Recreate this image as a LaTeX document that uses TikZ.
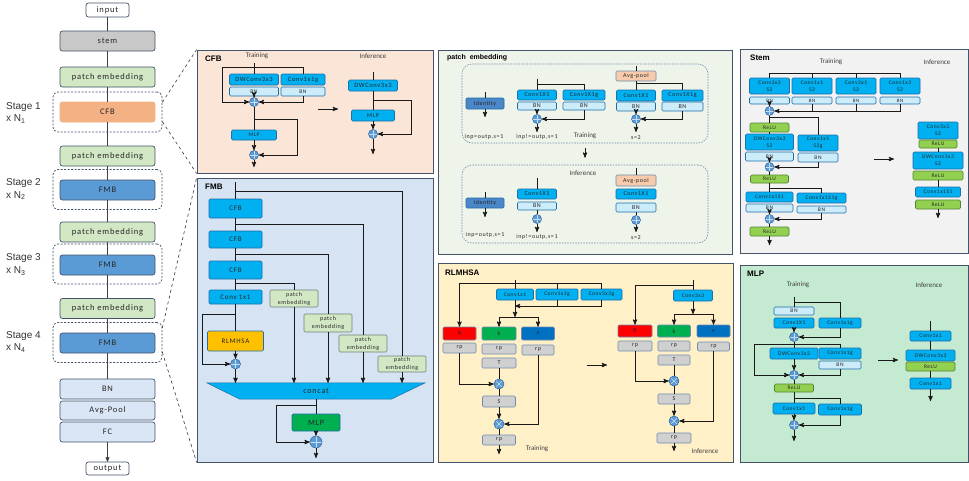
\documentclass[tikz,border=0pt]{standalone}
\usepackage{fontspec}
\setmainfont{Carlito}
\newfontfamily\boxfont[LetterSpace=10]{Carlito}
\newfontfamily\headfont{Liberation Sans}
\usetikzlibrary{arrows}
\usetikzlibrary{positioning}

\definecolor{convfill}{RGB}{0,176,240}
\definecolor{convline}{RGB}{31,110,170}
\definecolor{bnfill}{RGB}{204,236,250}
\definecolor{relufill}{RGB}{146,208,80}
\definecolor{reluline}{RGB}{84,130,53}
\definecolor{rpfill}{RGB}{208,208,208}
\definecolor{rpline}{RGB}{110,140,175}
\definecolor{addfill}{RGB}{91,155,213}
\definecolor{addline}{RGB}{46,100,160}
\definecolor{qred}{RGB}{255,0,0}
\definecolor{kgreen}{RGB}{0,176,80}
\definecolor{vblue}{RGB}{0,112,192}
\definecolor{gold}{RGB}{255,192,0}
\definecolor{idblue}{RGB}{74,134,200}
\definecolor{peach}{RGB}{248,203,173}
\definecolor{pegreen}{RGB}{210,231,196}
\definecolor{peline}{RGB}{110,130,120}
\definecolor{stemgray}{RGB}{200,200,200}
\definecolor{cfborange}{RGB}{244,177,131}
\definecolor{fmbblue}{RGB}{91,155,213}
\definecolor{headblue}{RGB}{218,230,245}
\definecolor{slate}{RGB}{68,84,106}
\definecolor{wirecol}{RGB}{25,25,25}
\definecolor{cfbbg}{RGB}{251,229,214}
\definecolor{fmbbg}{RGB}{214,227,242}
\definecolor{pebg}{RGB}{239,244,234}
\definecolor{rlmbg}{RGB}{255,240,200}
\definecolor{stembg}{RGB}{242,242,242}
\definecolor{mlpbg}{RGB}{197,234,210}

\newcommand\bxf[2]{\boxfont\fontsize{#1}{#2}\selectfont}

\tikzset{
  box/.style={rectangle,rounded corners=1.2pt,inner sep=0pt,line width=0.6pt,
              align=center,text=black!85,font=\bxf{6}{6}},
  sz/.style 2 args={minimum width=#1,minimum height=#2},
  fs/.style={font=\bxf{#1}{#1}},
  conv/.style={box,fill=convfill,draw=convline},
  bn/.style={box,fill=bnfill,draw=convline},
  relu/.style={box,fill=relufill,draw=reluline},
  rpbox/.style={box,fill=rpfill,draw=rpline},
  pesmall/.style={box,fill=pegreen,draw=peline,sz={48}{17},font=\bxf{6}{8}},
  colbox/.style={box,rounded corners=2.5pt,line width=0.7pt,draw=slate,sz={95}{20},fs=8.5},
  stagebox/.style={draw=slate,dash pattern=on 2pt off 1.5pt,rounded corners=5pt,
                   line width=0.7pt,sz={109}{40}},
  grp/.style={draw=rpline,dash pattern=on 1.5pt off 1.2pt,rounded corners=10pt,
              line width=0.6pt,sz={246}{79}},
  panel/.style={draw=slate,line width=0.8pt,inner sep=0pt},
  dot/.style={circle,fill=addfill,draw=addline,line width=0.5pt,minimum size=9pt,inner sep=0pt},
  add/.style={dot,path picture={\draw[addfill!35!white,line width=0.6pt]
      (path picture bounding box.north) -- (path picture bounding box.south)
      (path picture bounding box.west) -- (path picture bounding box.east);}},
  mul/.style={dot,minimum size=10pt,path picture={\draw[addfill!35!white,line width=0.6pt]
      (path picture bounding box.north west) -- (path picture bounding box.south east)
      (path picture bounding box.south west) -- (path picture bounding box.north east);}},
  wire/.style={draw=wirecol,line width=0.9pt},
  arr/.style={wire,->},
  colwire/.style={draw=black!75,line width=0.7pt},
  zoomline/.style={draw=black!80,dashed,line width=0.6pt},
  lbl/.style={font=\fontsize{7}{7}\selectfont,text=black!75,inner sep=0pt},
  note/.style={font=\bxf{6}{6},text=black!85,inner sep=0pt},
  ttl/.style={font=\headfont\bfseries\fontsize{8}{8}\selectfont,anchor=west,inner sep=0pt},
  stagelbl/.style={font=\headfont\fontsize{10}{11}\selectfont,anchor=west,inner sep=0pt,text=black!80}
}

\begin{document}
\begin{tikzpicture}[x=1pt,y=-1pt,>=stealth']
\useasboundingbox (0,0) rectangle (969,480);
\fill[white] (0,0) rectangle (969,480);

% ---- left column
\node[stagebox] (stg1) at (107.5,112) {};
\node[stagebox] (stg2) at (107.5,189.5) {};
\node[stagebox] (stg3) at (107.5,264) {};
\node[stagebox] (stg4) at (107.5,342.5) {};
\node[colbox,fill=white,sz={43}{14}] (input) at (107.5,10) {input};
\node[colbox,fill=stemgray] (stem) at (107.5,41) {stem};
\node[colbox,fill=pegreen] (pe1) at (107.5,77) {patch embedding};
\node[colbox,fill=cfborange,draw=cfborange] (cfb) at (107.5,112) {CFB};
\node[colbox,fill=pegreen] (pe2) at (107.5,156) {patch embedding};
\node[colbox,fill=fmbblue] (fmb2) at (107.5,190) {FMB};
\node[colbox,fill=pegreen] (pe3) at (107.5,232) {patch embedding};
\node[colbox,fill=fmbblue] (fmb3) at (107.5,265) {FMB};
\node[colbox,fill=pegreen] (pe4) at (107.5,308.5) {patch embedding};
\node[colbox,fill=fmbblue] (fmb4) at (107.5,343) {FMB};
\node[colbox,fill=headblue] (bn) at (107.5,389) {BN};
\node[colbox,fill=headblue,sz={95}{19}] (avg) at (107.5,410.5) {Avg-Pool};
\node[colbox,fill=headblue] (fc) at (107.5,432) {FC};
\node[colbox,fill=white,sz={43}{13}] (output) at (107.5,468.5) {output};

\draw[colwire] (input) -- (stem) -- (pe1) -- (cfb) -- (pe2) -- (fmb2) -- (pe3)
  -- (fmb3) -- (pe4) -- (fmb4) -- (bn);
\draw[colwire,->] (fc) -- (output);

\node[stagelbl] at (6,107) {Stage 1};
\node[stagelbl] at (6,119) {x N\textsubscript{1}};
\node[stagelbl] at (6,183) {Stage 2};
\node[stagelbl] at (6,195.5) {x N\textsubscript{2}};
\node[stagelbl] at (6,258) {Stage 3};
\node[stagelbl] at (6,271) {x N\textsubscript{3}};
\node[stagelbl] at (6,336) {Stage 4};
\node[stagelbl] at (6,348) {x N\textsubscript{4}};

% ---- CFB
\node[panel,fill=cfbbg,sz={236}{123}] (cfbp) at (315,111.5) {};
\node[ttl] at (205,59) {CFB};
\node[lbl] at (257,56) {Training};
\node[lbl] at (373,56) {Inference};
\coordinate (cfb-in) at (254,63);
\node[conv,sz={49}{11},fs=6.5] (cfb-dw) at (254,79.5) {DWConv3x3};
\node[conv,sz={44}{11},fs=6.5] (cfb-g) at (303,79.5) {Conv1x1g};
\node[bn,sz={49}{9},fs=5.5] (cfb-bn1) at (254,91.5) {BN};
\node[bn,sz={44}{9},fs=5.5] (cfb-bn2) at (303,91.5) {BN};
\node[add] (cfb-a1) at (254,102) {};
\node[conv,sz={45}{10},fs=5.5] (cfb-mlp) at (254,135) {MLP};
\node[add] (cfb-a2) at (254,155) {};
\coordinate (cfb-out) at (254,167);
\draw[wire] (cfb-in) -- (cfb-dw);
\draw[wire] (cfb-in) ++(0,4) -| (cfb-g);
\draw[arr] (cfb-in) ++(0,4) -- ++(-32,0) |- (cfb-a1);
\draw[arr] (cfb-bn1) -- (cfb-a1);
\draw[arr] (cfb-bn2) |- (cfb-a1);
\draw[wire] (cfb-a1) -- (cfb-mlp);
\draw[arr] (cfb-mlp) -- (cfb-a2);
\draw[arr] (cfb-a1.south) ++(0,12.5) -- ++(43,0) |- (cfb-a2);
\draw[arr] (cfb-a2) -- (cfb-out);

\coordinate (cfi-in) at (373,72);
\node[conv,sz={49}{11},fs=6.5] (cfi-dw) at (373,85.5) {DWConv3x3};
\node[conv,sz={43}{11},fs=6] (cfi-mlp) at (373,115.5) {MLP};
\node[add] (cfi-a) at (373,134) {};
\coordinate (cfi-out) at (373,154);
\draw[wire] (cfi-in) -- (cfi-dw);
\draw[wire] (cfi-dw) -- (cfi-mlp);
\draw[arr] (cfi-mlp) -- (cfi-a);
\draw[arr] (cfi-dw.south) ++(0,9) -- ++(38,0) |- (cfi-a);
\draw[arr] (cfi-a) -- (cfi-out);
\coordinate (cfb-l) at (318,109);
\coordinate (cfb-r) at (338,109);
\draw[arr] (cfb-l) -- (cfb-r);

% ---- FMB
\node[panel,fill=fmbbg,sz={236}{284}] (fmbp) at (315,320) {};
\node[ttl] at (205,187) {FMB};
\coordinate (fmb-in) at (235.5,182);
\node[conv,sz={53}{19},fs=7] (fmb-c1) at (235.5,208.5) {CFB};
\node[conv,sz={53}{17},fs=7] (fmb-c2) at (235.5,239.5) {CFB};
\node[conv,sz={53}{18},fs=7] (fmb-c3) at (235.5,270) {CFB};
\node[conv,sz={53}{14},fs=7] (fmb-cv) at (235.5,297) {Conv 1x1};
\node[box,fill=gold,draw=convline,sz={56}{20},fs=7] (fmb-rl) at (235.5,341) {RLMHSA};
\node[add,minimum size=10pt] (fmb-a1) at (235.5,364) {};
\node[pesmall] (fmb-pa) at (294,298.5) {patch\\embedding};
\node[pesmall,sz={48}{18}] (fmb-pb) at (328,323) {patch\\embedding};
\node[pesmall] (fmb-pc) at (363,343.5) {patch\\embedding};
\node[pesmall,sz={48}{16}] (fmb-pd) at (402,364) {patch\\embedding};
\node[sz={218}{16},inner sep=0pt] (concat) at (316,391) {};
\filldraw[fill=convfill,draw=convline,line width=0.5pt] (concat.north west) -- (concat.north east)
  -- ([xshift=-34pt]concat.south east) -- ([xshift=33pt]concat.south west) -- cycle;
\node[fs=8,text=black!85] (concat-t) at (concat) {concat};
\node[box,fill=kgreen,draw=convline,sz={48}{17},fs=8] (fmb-mlp) at (316,422.5) {MLP};
\node[add,minimum size=12pt] (fmb-a2) at (316,442) {};
\coordinate (fmb-out) at (316,458);

\draw[wire] (fmb-in) -- (fmb-c1);
\draw[wire] (fmb-c1) -- (fmb-c2);
\draw[wire] (fmb-c2) -- (fmb-c3);
\draw[wire] (fmb-c3) -- (fmb-cv);
\draw[wire] (fmb-cv) -- (fmb-rl);
\draw[arr] (fmb-rl) -- (fmb-a1);
\draw[arr] (fmb-a1) -- (fmb-a1 |- concat.north);
\draw[arr] (fmb-cv.south) ++(0,10) -- ++(-33.5,0) |- (fmb-a1);
\draw[wire] (fmb-in) ++(0,9) -| (fmb-pd);
\draw[wire] (fmb-c1.south) ++(0,6) -| (fmb-pc);
\draw[wire] (fmb-c2.south) ++(0,6) -| (fmb-pb);
\draw[wire] (fmb-c3.south) ++(0,4) -| (fmb-pa);
\draw[arr] (fmb-pa) -- (fmb-pa |- concat.north);
\draw[arr] (fmb-pb) -- (fmb-pb |- concat.north);
\draw[arr] (fmb-pc) -- (fmb-pc |- concat.north);
\draw[arr] (fmb-pd) -- (fmb-pd |- concat.north);
\draw[wire] (concat.south) -- (fmb-mlp);
\draw[arr] (fmb-mlp) -- (fmb-a2);
\draw[arr] (concat.south) ++(0,6) -- ++(-40,0) |- (fmb-a2);
\draw[arr] (fmb-a2) -- (fmb-out);

% ---- patch embedding
\node[panel,fill=pebg,sz={294}{204}] (pep) at (585,152) {};
\node[ttl,font=\headfont\bfseries\fontsize{7}{7}\selectfont] at (447,58) {patch\ \ embedding};
\node[grp] (pe-up) at (585,103.5) {};
\node[grp,sz={246}{78}] (pe-lo) at (585,204) {};
\draw[arr,shorten <=5pt,shorten >=7pt] (pe-up) -- (pe-lo);

\coordinate (idu-in) at (485,92);
\node[box,fill=idblue,draw=convline,sz={38}{11}] (idu) at (485,103.5) {Identity};
\coordinate (idu-out) at (485,117);
\draw[wire] (idu-in) -- (idu);
\draw[arr] (idu) -- (idu-out);
\node[note] at (484,137) {inp=outp,s=1};

\coordinate (pu-in) at (537,79);
\node[conv,sz={39}{10}] (pu-c) at (537,95) {Conv1X1};
\node[bn,sz={39}{8}] (pu-bn1) at (537,106) {BN};
\node[conv,sz={42}{10}] (pu-g) at (584,95) {Conv1X1g};
\node[bn,sz={42}{8}] (pu-bn2) at (584,106) {BN};
\node[add] (pu-a) at (537,119) {};
\coordinate (pu-out) at (537,132);
\draw[wire] (pu-in) -- (pu-c);
\draw[wire] (pu-in) ++(0,5) -| (pu-g);
\draw[arr] (pu-bn1) -- (pu-a);
\draw[arr] (pu-bn2) |- (pu-a);
\draw[arr] (pu-a) -- (pu-out);
\node[note] at (537,137) {inp!=outp,s=1};
\node[lbl] at (585,136) {Training};

\coordinate (pa-in) at (636,66);
\node[box,fill=peach,draw=rpline,sz={40}{10}] (pa-avg) at (636,76) {Avg-pool};
\node[conv,sz={39}{11}] (pa-c) at (636,95.5) {Conv1X1};
\node[bn,sz={39}{9}] (pa-bn1) at (636,106.5) {BN};
\node[conv,sz={41}{11}] (pa-g) at (682.5,95.5) {Conv1X1g};
\node[bn,sz={41}{9}] (pa-bn2) at (682.5,106.5) {BN};
\node[add] (pa-a) at (636,119) {};
\coordinate (pa-out) at (636,132);
\draw[wire] (pa-in) -- (pa-avg);
\draw[wire] (pa-avg) -- (pa-c);
\draw[wire] (pa-avg.south) ++(0,2) -| (pa-g);
\draw[arr] (pa-bn1) -- (pa-a);
\draw[arr] (pa-bn2) |- (pa-a);
\draw[arr] (pa-a) -- (pa-out);
\node[note] at (636,138) {s=2};

\node[lbl] at (583,173) {Inference};
\coordinate (idl-in) at (485,192);
\node[box,fill=idblue,draw=convline,sz={38}{10}] (idl) at (485,203) {Identity};
\coordinate (idl-out) at (485,217);
\draw[wire] (idl-in) -- (idl);
\draw[arr] (idl) -- (idl-out);
\node[note] at (485,235) {inp=outp,s=1};

\coordinate (pl-in) at (537,178);
\node[conv,sz={39}{10}] (pl-c) at (537,194) {Conv1X1};
\node[bn,sz={39}{8}] (pl-bn) at (537,206) {BN};
\node[add] (pl-a) at (537,219) {};
\coordinate (pl-out) at (537,232);
\draw[wire] (pl-in) -- (pl-c);
\draw[wire] (pl-bn) -- (pl-a);
\draw[arr] (pl-a) -- (pl-out);
\node[note] at (537,237) {inp!=outp,s=1};

\coordinate (pal-in) at (636,168);
\node[box,fill=peach,draw=rpline,sz={40}{11}] (pal-avg) at (636,180.5) {Avg-pool};
\node[conv,sz={40}{10}] (pal-c) at (636,194) {Conv1X1};
\node[bn,sz={40}{9}] (pal-bn) at (636,207.5) {BN};
\node[add] (pal-a) at (636,220) {};
\coordinate (pal-out) at (636,232);
\draw[wire] (pal-in) -- (pal-avg);
\draw[wire] (pal-bn) -- (pal-a);
\draw[arr] (pal-a) -- (pal-out);
\node[note] at (636,238) {s=2};

% ---- RLMHSA
\node[panel,fill=rlmbg,sz={295}{199}] (rlmp) at (585.5,362.5) {};
\node[ttl] at (445,273) {RLMHSA};
\coordinate (rt-in) at (515,280);
\node[conv,sz={37}{11},fs=5.5] (rt-c1) at (515,294.5) {Conv1x1};
\node[conv,sz={42}{11},fs=5.5] (rt-c2) at (557,294.5) {Conv1x1g};
\node[conv,sz={41}{11},fs=5.5] (rt-c3) at (601.5,294.5) {Conv3x3g};
\coordinate (rt-m) at (515,306);
\coordinate (rt-sp) at (515,317);
\node[box,fill=qred,draw=rpline,sz={33}{13}] (rt-q) at (459.5,333.5) {q};
\node[box,fill=kgreen,draw=rpline,sz={34}{13}] (rt-k) at (499,333.5) {k};
\node[box,fill=vblue,draw=rpline,sz={33}{13}] (rt-v) at (538,333.5) {v};
\node[rpbox,sz={33}{10}] (rt-rq) at (459.5,348) {rp};
\node[rpbox,sz={34}{10}] (rt-rk) at (499,349) {rp};
\node[rpbox,sz={34}{10}] (rt-t) at (499,363) {T};
\node[rpbox,sz={32}{10}] (rt-rv) at (538,350) {rp};
\node[mul] (rt-m1) at (499,384) {};
\node[rpbox,sz={33}{11}] (rt-s) at (499,401.5) {S};
\node[mul] (rt-m2) at (499,424) {};
\node[rpbox,sz={33}{10}] (rt-ro) at (499,440) {rp};
\coordinate (rt-out) at (499,454);
\node[lbl] at (537,449) {Training};

\draw[wire] (rt-in) -- (rt-c1);
\draw[arr] (rt-in) ++(0,3) -| (rt-q);
\draw[wire] (rt-in) ++(0,3) -| (rt-c2);
\draw[wire] (rt-in) ++(0,3) -| (rt-c3);
\draw[arr] (rt-c3) |- (rt-m);
\draw[wire] (rt-c2) -- (rt-c2 |- rt-m);
\draw[arr] (rt-c1) -- (rt-sp);
\draw[arr] (rt-sp) -| (rt-k);
\draw[arr] (rt-sp) -| (rt-v);
\draw[arr] (rt-rq) |- (rt-m1);
\draw[wire] (rt-t) -- (rt-m1);
\draw[wire] (rt-m1) -- (rt-s);
\draw[arr] (rt-s) -- (rt-m2);
\draw[arr] (rt-rv) |- (rt-m2);
\draw[wire] (rt-m2) -- (rt-ro);
\draw[arr] (rt-ro) -- (rt-out);
\coordinate (rt-l) at (587,365);
\coordinate (rt-r) at (607,365);
\draw[arr] (rt-l) -- (rt-r);

\coordinate (ri-in) at (693,280);
\node[conv,sz={39}{11},fs=5.5] (ri-c) at (693,295.5) {Conv3x3};
\coordinate (ri-sp) at (693,314);
\node[box,fill=qred,draw=rpline,sz={34}{12}] (ri-q) at (635,331) {q};
\node[box,fill=kgreen,draw=rpline,sz={33}{12}] (ri-k) at (674,331) {k};
\node[box,fill=vblue,draw=rpline,sz={33}{12}] (ri-v) at (713.5,331) {v};
\node[rpbox,sz={34}{10}] (ri-rq) at (635,346) {rp};
\node[rpbox,sz={32}{10}] (ri-rk) at (674,346) {rp};
\node[rpbox,sz={32}{10}] (ri-t) at (674,360) {T};
\node[rpbox,sz={32}{9}] (ri-rv) at (713.5,346.5) {rp};
\node[mul] (ri-m1) at (674,381) {};
\node[rpbox,sz={32}{10}] (ri-s) at (674,399) {S};
\node[mul] (ri-m2) at (674,421) {};
\node[rpbox,sz={34}{10}] (ri-ro) at (674,438) {rp};
\coordinate (ri-out) at (674,451);
\node[lbl] at (705,451) {Inference};

\draw[wire] (ri-in) -- (ri-c);
\draw[arr] (ri-in) ++(0,5) -| (ri-q);
\draw[arr] (ri-c) -- (ri-sp);
\draw[arr] (ri-sp) -| (ri-k);
\draw[arr] (ri-sp) -| (ri-v);
\draw[arr] (ri-rq) |- (ri-m1);
\draw[wire] (ri-t) -- (ri-m1);
\draw[wire] (ri-m1) -- (ri-s);
\draw[arr] (ri-s) -- (ri-m2);
\draw[arr] (ri-rv) |- (ri-m2);
\draw[wire] (ri-m2) -- (ri-ro);
\draw[arr] (ri-ro) -- (ri-out);

% ---- Stem
\node[panel,fill=stembg,sz={228}{204}] (stp) at (854,151) {};
\node[ttl] at (750,58) {Stem};
\node[lbl] at (831,62) {Training};
\node[lbl] at (937,62) {Inference};
\coordinate (st-in) at (769.5,73);
\node[conv,sz={40}{16},font=\bxf{5.5}{7}] (st-c1) at (769.5,86) {Conv3x3\\S2};
\node[conv,sz={40}{16},font=\bxf{5.5}{7}] (st-c2) at (812,86) {Conv1x1\\S2};
\node[conv,sz={40}{16},font=\bxf{5.5}{7}] (st-c3) at (856,86) {Conv3x1\\S2};
\node[conv,sz={40}{16},font=\bxf{5.5}{7}] (st-c4) at (900,86) {Conv1x3\\S2};
\node[bn,sz={40}{7},fs=5] (st-b1) at (769.5,100.5) {BN};
\node[bn,sz={40}{7},fs=5] (st-b2) at (812,100.5) {BN};
\node[bn,sz={40}{7},fs=5] (st-b3) at (856,100.5) {BN};
\node[bn,sz={40}{7},fs=5] (st-b4) at (900,100.5) {BN};
\node[add] (st-a1) at (769.5,111) {};
\node[relu,sz={39}{9},fs=5.5] (st-r1) at (769.5,127.5) {ReLU};
\node[conv,sz={48}{16},font=\bxf{5.5}{7}] (st-dw) at (769.5,142) {DWConv3x3\\S2};
\node[bn,sz={48}{9},fs=5.5] (st-b5) at (769.5,156.5) {BN};
\node[conv,sz={40}{16},font=\bxf{5.5}{7}] (st-g) at (818,143) {Conv1x1\\S2g};
\node[bn,sz={40}{9},fs=5.5] (st-b6) at (818,157.5) {BN};
\node[add] (st-a2) at (769.5,167) {};
\node[relu,sz={38}{8},fs=5.5] (st-r2) at (769.5,179) {ReLU};
\node[conv,sz={47}{10},fs=5.5] (st-c5) at (769.5,197) {Conv1x1S1};
\node[bn,sz={47}{8},fs=5.5] (st-b7) at (769.5,208) {BN};
\node[conv,sz={49}{10},fs=5.5] (st-g2) at (821.5,198) {Conv1x1S1g};
\node[bn,sz={49}{7},fs=5.5] (st-b8) at (821.5,209.5) {BN};
\node[add] (st-a3) at (769.5,219) {};
\node[relu,sz={39}{9},fs=5.5] (st-r3) at (769.5,231.5) {ReLU};
\coordinate (st-out) at (769.5,245);

\draw[wire] (st-in) -- (st-c1);
\draw[wire] (st-in) -| (st-c2);
\draw[wire] (st-in) -| (st-c3);
\draw[wire] (st-in) -| (st-c4);
\draw[arr] (st-b1) -- (st-a1);
\draw[wire] (st-b2) -- (st-b2 |- st-a1);
\draw[wire] (st-b3) -- (st-b3 |- st-a1);
\draw[arr] (st-b4) |- (st-a1);
\draw[wire] (st-a1) -- (st-r1);
\draw[wire] (st-a1.south) ++(0,2) -| (st-g);
\draw[wire] (st-r1) -- (st-dw);
\draw[arr] (st-b5) -- (st-a2);
\draw[arr] (st-b6) |- (st-a2);
\draw[wire] (st-a2) -- (st-r2);
\draw[wire] (st-r2) -- (st-c5);
\draw[wire] (st-r2.south) ++(0,5) -| (st-g2);
\draw[arr] (st-b7) -- (st-a3);
\draw[arr] (st-b8) |- (st-a3);
\draw[wire] (st-a3) -- (st-r3);
\draw[arr] (st-r3) -- (st-out);

\node[conv,sz={40}{17},font=\bxf{5.5}{7}] (si-c1) at (938,130.5) {Conv3x3\\S2};
\node[relu,sz={38}{8},fs=5.5] (si-r1) at (938,144) {ReLU};
\node[conv,sz={50}{17},font=\bxf{5.5}{7}] (si-c2) at (938,160.5) {DWConv3x3\\S2};
\node[relu,sz={50}{9},fs=5.5] (si-r2) at (938,175.5) {ReLU};
\node[conv,sz={45}{10},fs=5.5] (si-c3) at (938,192) {Conv1x1S1};
\node[relu,sz={45}{9},fs=5.5] (si-r3) at (938,204.5) {ReLU};
\coordinate (si-out) at (938,218);
\draw[wire] (si-r1) -- (si-c2);
\draw[wire] (si-r2) -- (si-c3);
\draw[arr] (si-r3) -- (si-out);
\coordinate (st-l) at (874,159);
\coordinate (st-r) at (894,159);
\draw[arr] (st-l) -- (st-r);

% ---- MLP
\node[panel,fill=mlpbg,sz={228}{197}] (mlpp) at (854,363.5) {};
\node[ttl] at (747,274) {MLP};
\node[lbl] at (798,285) {Training};
\node[lbl] at (929,285) {Inference};
\coordinate (mt-in) at (794,297);
\node[bn,sz={40}{8},fs=5.5] (mt-b1) at (794,311) {BN};
\node[conv,sz={40}{10},fs=5.5] (mt-c1) at (794,323) {Conv1X1};
\node[conv,sz={42}{10},fs=5.5] (mt-g1) at (840,323) {Conv1x1g};
\node[add] (mt-a1) at (794,337) {};
\node[conv,sz={48}{11},fs=5.5] (mt-dw) at (794,353.5) {DWConv3x3};
\node[conv,sz={42}{11},fs=5.5] (mt-g2) at (840,353.5) {Conv1x1g};
\node[bn,sz={42}{8},fs=5.5] (mt-b2) at (840,365) {BN};
\node[add] (mt-a2) at (794,375) {};
\node[relu,sz={39}{8},fs=5.5] (mt-r) at (794,388) {ReLU};
\node[conv,sz={42}{11},fs=5.5] (mt-c3) at (794,408.5) {Conv1x1};
\node[conv,sz={43}{11},fs=5.5] (mt-g3) at (840,409.5) {Conv1x1g};
\node[add] (mt-a3) at (794,425) {};
\coordinate (mt-out) at (794,441);

\draw[wire] (mt-in) -- (mt-b1);
\draw[wire] (mt-in) ++(0,5) -| (mt-g1);
\draw[arr] (mt-c1) -- (mt-a1);
\draw[arr] (mt-g1) |- (mt-a1);
\draw[wire] (mt-a1) -- (mt-dw);
\draw[arr] (mt-a1.south) ++(0,2.5) -- ++(-40,0) |- (mt-a2);
\draw[wire] (mt-a1.south) ++(0,2.5) -| (mt-g2);
\draw[arr] (mt-dw) -- (mt-a2);
\draw[arr] (mt-b2) |- (mt-a2);
\draw[wire] (mt-a2) -- (mt-r);
\draw[wire] (mt-r) -- (mt-c3);
\draw[wire] (mt-r.south) ++(0,6) -| (mt-g3);
\draw[arr] (mt-c3) -- (mt-a3);
\draw[arr] (mt-g3) |- (mt-a3);
\draw[arr] (mt-a3) -- (mt-out);

\coordinate (mi-in) at (930.5,321);
\node[conv,sz={41}{10},fs=5.5] (mi-c1) at (930.5,336) {Conv1x1};
\node[conv,sz={49}{11},fs=5.5] (mi-dw) at (930.5,355.5) {DWConv3x3};
\node[relu,sz={49}{9},fs=5.5] (mi-r) at (930.5,366.5) {ReLU};
\node[conv,sz={41}{11},fs=5.5] (mi-c2) at (930.5,383.5) {Conv1x1};
\coordinate (mi-out) at (930.5,401);
\draw[wire] (mi-in) -- (mi-c1);
\draw[wire] (mi-c1) -- (mi-dw);
\draw[wire] (mi-r) -- (mi-c2);
\draw[arr] (mi-c2) -- (mi-out);
\coordinate (mt-l) at (878,360);
\coordinate (mt-r2) at (898,360);
\draw[arr] (mt-l) -- (mt-r2);

% ---- zoom lines
\draw[zoomline] (stg1.10) -- (cfbp.north west);
\draw[zoomline] (stg1.-10) -- (cfbp.south west);
\draw[zoomline] (stg4.15) -- (fmbp.north west);
\draw[zoomline] (stg4.-10) -- (fmbp.south west);
\end{tikzpicture}
\end{document}
